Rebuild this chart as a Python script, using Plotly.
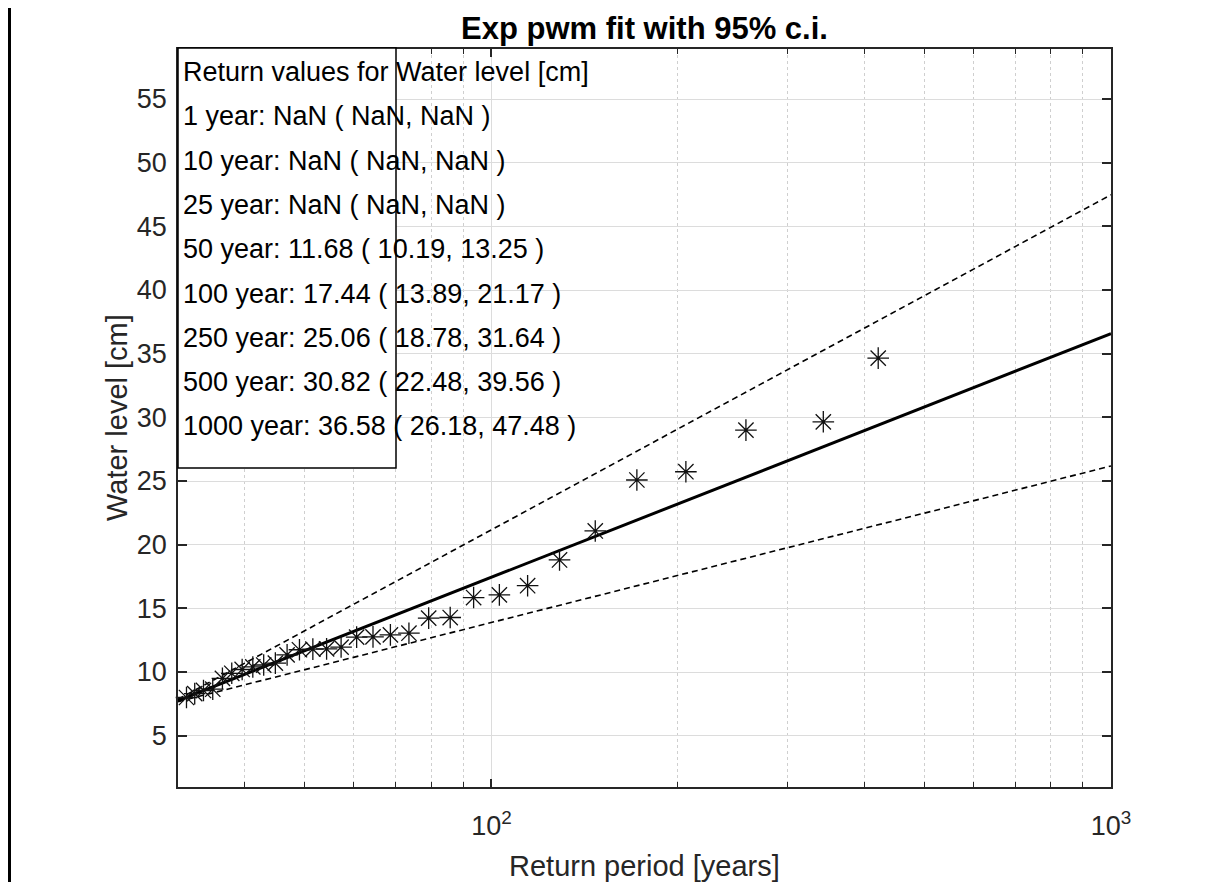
import math
import plotly.graph_objects as go

# ---------------- data ----------------
# empirical return periods [years] and observed water levels [cm]
obs_period = [31.2, 32.2, 33.2, 34.3, 35.5, 36.8, 38.1, 39.6, 41.2, 42.9, 44.8,
              46.8, 49.0, 51.5, 54.2, 57.2, 60.6, 64.4, 68.7, 73.6, 79.2, 85.8,
              93.6, 103.0, 114.4, 128.8, 147.1, 171.7, 206.0, 257.5, 343.3, 421.0]
obs_level = [7.77, 8.00, 8.30, 8.55, 8.65, 9.50, 9.90, 10.20, 10.40, 10.55, 10.70,
             11.35, 11.75, 11.80, 11.82, 11.96, 12.74, 12.76, 12.92, 13.05, 14.23, 14.28,
             15.85, 16.06, 16.78, 18.80, 21.08, 25.08, 25.73, 29.00, 29.65, 34.65]

# fitted return level curve and 95% confidence bounds
fit_period = [31.2, 50, 100, 250, 500, 1000]
fit_level = [7.76, 11.68, 17.44, 25.06, 30.82, 36.58]
ci_lower = [7.67, 10.19, 13.89, 18.78, 22.48, 26.18]
ci_upper = [7.86, 13.25, 21.17, 31.64, 39.56, 47.48]

# table of return values shown in the text box
table_period = [1, 10, 25, 50, 100, 250, 500, 1000]
table_fit = [float("nan"), float("nan"), float("nan"), 11.68, 17.44, 25.06, 30.82, 36.58]
table_low = [float("nan"), float("nan"), float("nan"), 10.19, 13.89, 18.78, 22.48, 26.18]
table_up = [float("nan"), float("nan"), float("nan"), 13.25, 21.17, 31.64, 39.56, 47.48]

x_ticks = [100, 1000]
x_ticktext = ["10<sup>2</sup>", "10<sup>3</sup>"]
x_minor = [40, 50, 60, 70, 80, 90, 200, 300, 400, 500, 600, 700, 800, 900]
y_ticks = [5, 10, 15, 20, 25, 30, 35, 40, 45, 50, 55]

# ---------------- layout geometry (page pixels) ----------------
OFF = 8                      # page body margin offset
W, H = 1205 - OFF, 882 - OFF
L, R, T, B = 178, 1111, 49, 787   # plot area in page pixels
pw, ph = R - L, B - T


def px_x(p):
    return (p - L) / pw


def px_y(p):
    return (B - p) / ph


FONT = "Liberation Sans, Arial, sans-serif"
AX = "#262626"

fig = go.Figure()

fig.add_trace(go.Scatter(x=fit_period, y=ci_upper, mode="lines",
                         line=dict(color="black", width=1.6, dash="6px,4px"),
                         showlegend=False, hoverinfo="skip"))
fig.add_trace(go.Scatter(x=fit_period, y=ci_lower, mode="lines",
                         line=dict(color="black", width=1.6, dash="6px,4px"),
                         showlegend=False, hoverinfo="skip"))
fig.add_trace(go.Scatter(x=fit_period, y=fit_level, mode="lines",
                         line=dict(color="black", width=3),
                         showlegend=False))
fig.add_trace(go.Scatter(x=obs_period, y=obs_level, mode="markers",
                         marker=dict(symbol="asterisk-open", size=18, color="#111111",
                                     line=dict(color="#111111", width=1.3)),
                         showlegend=False, cliponaxis=False))

fig.update_layout(
    width=W, height=H,
    margin=dict(l=L - OFF, r=(1205 - R), t=T - OFF, b=(882 - B), autoexpand=False),
    paper_bgcolor="white", plot_bgcolor="white",
    font=dict(family=FONT, color=AX, size=27),
    title=dict(text="<b>Exp pwm fit with 95% c.i.</b>", x=px_x((L + R) / 2), xref="paper",
               xanchor="center", y=1 - (28 - OFF) / H, yref="container", yanchor="middle",
               font=dict(family=FONT, size=31, color="black")),
)

fig.update_xaxes(
    type="log", range=[math.log10(31.2), 3],
    showline=True, linecolor=AX, linewidth=1.5, mirror="ticks",
    ticks="inside", ticklen=8, tickwidth=1.5, tickcolor=AX,
    tickvals=x_ticks, ticktext=x_ticktext, ticklabelstandoff=14,
    showgrid=True, gridcolor="#dcdcdc", gridwidth=1.2,
    minor=dict(tickvals=x_minor, ticks="inside", ticklen=5, tickwidth=1.2,
               tickcolor=AX, showgrid=True, gridcolor="#cfcfcf",
               griddash="dot", gridwidth=1),
    zeroline=False,
)
fig.update_yaxes(
    range=[0.97, 58.93],
    showline=True, linecolor=AX, linewidth=1.5, mirror="ticks",
    ticks="inside", ticklen=9, tickwidth=1.5, tickcolor=AX,
    tickvals=y_ticks, ticklabelstandoff=4,
    showgrid=True, gridcolor="#dcdcdc", gridwidth=1.2,
    zeroline=False,
)

# text box
fig.add_shape(type="rect", xref="paper", yref="paper",
              x0=px_x(L), x1=px_x(396), y0=px_y(468), y1=px_y(48),
              line=dict(color="black", width=1.5), fillcolor="white", layer="above")


def fmt(v):
    return "NaN" if math.isnan(v) else f"{v:.2f}"


lines = ["Return values for Water level [cm]"]
for p, f, lo, up in zip(table_period, table_fit, table_low, table_up):
    lines.append(f"{p} year: {fmt(f)} ( {fmt(lo)}, {fmt(up)} )")

for k, txt in enumerate(lines):
    yc = 72 + k * 44.3
    fig.add_annotation(text=txt, xref="paper", yref="paper",
                       x=px_x(181), y=px_y(yc), xanchor="left", yanchor="middle",
                       showarrow=False, font=dict(family=FONT, size=27, color="black"))

# axis titles
fig.add_annotation(text="Return period [years]", xref="paper", yref="paper",
                   x=0.5, y=px_y(866), xanchor="center", yanchor="middle",
                   showarrow=False, font=dict(family=FONT, size=29, color=AX))
fig.add_annotation(text="Water level [cm]", xref="paper", yref="paper",
                   x=px_x(117), y=0.5, xanchor="center", yanchor="middle", textangle=-90,
                   showarrow=False, font=dict(family=FONT, size=29, color=AX))

# figure frame line on the left
fig.add_shape(type="line", xref="paper", yref="paper",
              x0=px_x(9.5), x1=px_x(9.5), y0=px_y(882), y1=px_y(0),
              line=dict(color="black", width=3))

fig.write_html("out.html")
